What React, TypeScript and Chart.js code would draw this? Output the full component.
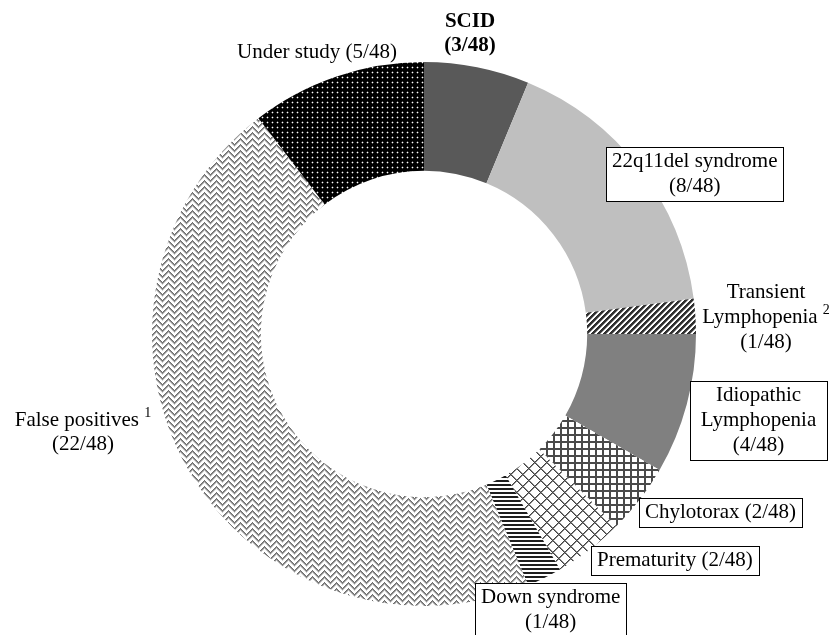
import React, { useEffect, useRef } from 'react';
import { Chart, registerables } from 'chart.js';

Chart.register(...registerables);

// ---------- data ----------
const categories = [
  'SCID',
  '22q11del syndrome',
  'Transient Lymphopenia',
  'Idiopathic Lymphopenia',
  'Chylotorax',
  'Prematurity',
  'Down syndrome',
  'False positives',
  'Under study',
];
const counts = [3, 8, 1, 4, 2, 2, 1, 22, 5];
const total = 48;
const nameLines = [
  ['SCID'],
  ['22q11del syndrome'],
  ['Transient', 'Lymphopenia'],
  ['Idiopathic', 'Lymphopenia'],
  ['Chylotorax'],
  ['Prematurity'],
  ['Down syndrome'],
  ['False positives'],
  ['Under study'],
];
const superscripts = ['', '', '2', '', '', '', '', '1', ''];
const countInline = [false, false, false, false, true, true, false, false, true];

// ---------- label layout (offsets from the doughnut centre) ----------
type Layout = { dx: number; dy: number; box: boolean; bold?: boolean; w?: number; lh?: number };
const layout: Layout[] = [
  { dx: 46, dy: -312, box: false, bold: true, lh: 24 },
  { dx: 182, dy: -187, box: true },
  { dx: 342, dy: -42, box: false, lh: 25 },
  { dx: 266, dy: 47, box: true, w: 137 },
  { dx: 215, dy: 164, box: true },
  { dx: 167, dy: 212, box: true },
  { dx: 51, dy: 249, box: true },
  { dx: -341, dy: 86, box: false, lh: 24 },
  { dx: -107, dy: -282, box: false, lh: 24 },
];

const FONT = '"Liberation Serif", "Times New Roman", serif';

function makeTile(size: number, bg: string, fn: (x: number, y: number) => string | null) {
  const c = document.createElement('canvas');
  c.width = size;
  c.height = size;
  const g = c.getContext('2d')!;
  g.fillStyle = bg;
  g.fillRect(0, 0, size, size);
  for (let y = 0; y < size; y++) {
    for (let x = 0; x < size; x++) {
      const col = fn(x, y);
      if (col) {
        g.fillStyle = col;
        g.fillRect(x, y, 1, 1);
      }
    }
  }
  return c;
}

function buildFills(ctx: CanvasRenderingContext2D): (string | CanvasPattern)[] {
  const pat = (c: HTMLCanvasElement) => ctx.createPattern(c, 'repeat') as CanvasPattern;
  const transient = pat(makeTile(6, '#ffffff', (x, y) => {
    const k = (x + y) % 6;
    return k < 3 ? '#303030' : k === 3 ? '#9a9a9a' : null;
  }));
  const chylo = pat(makeTile(7, '#ffffff', (x, y) => (x % 7 < 2 || y % 7 < 2 ? '#4a4a4a' : null)));
  const prem = pat(makeTile(12, '#ffffff', (x, y) => {
    const a = (x + y) % 12;
    const b = (((x - y) % 12) + 12) % 12;
    if (a === 0 || b === 0) return '#404040';
    if (a === 1 || b === 1) return '#8a8a8a';
    return null;
  }));
  const down = pat(makeTile(4, '#ffffff', (x, y) => (y % 4 < 2 ? '#1e1e1e' : null)));
  const falsePos = pat(makeTile(12, '#ffffff', (x, y) => {
    const d = Math.abs(x - 6);
    const k = (y + d) % 6;
    return k === 0 ? '#6e6e6e' : k === 1 ? '#8e8e8e' : k === 2 ? '#d0d0d0' : null;
  }));
  const under = pat(makeTile(5, '#000000', (x, y) => {
    if (x === 2 && y === 2) return '#ffffff';
    if ((x === 1 && y === 2) || (x === 3 && y === 2) || (x === 2 && y === 1) || (x === 2 && y === 3)) return '#4a4a4a';
    return null;
  }));
  return ['#595959', '#bfbfbf', transient, '#808080', chylo, prem, down, falsePos, under];
}

const labelPlugin = {
  id: 'sliceLabels',
  afterDraw(chart: any) {
    const ctx: CanvasRenderingContext2D = chart.ctx;
    const arc = chart.getDatasetMeta(0).data[0];
    const cx = arc.x;
    const cy = arc.y;
    ctx.save();
    ctx.textBaseline = 'middle';
    categories.forEach((_, i) => {
      const L = layout[i];
      const cnt = `(${counts[i]}/${total})`;
      const lines = nameLines[i].slice();
      if (countInline[i]) lines[lines.length - 1] = lines[lines.length - 1] + ' ' + cnt;
      else lines.push(cnt);
      const supLine = superscripts[i] ? nameLines[i].length - 1 : -1;
      const mainFont = `${L.bold ? 'bold ' : ''}21px ${FONT}`;
      const supFont = `14px ${FONT}`;
      const lh = L.lh ?? 25;
      const widths = lines.map((t, j) => {
        ctx.font = mainFont;
        let w = ctx.measureText(j === supLine ? t + ' ' : t).width;
        if (j === supLine) {
          ctx.font = supFont;
          w += ctx.measureText(superscripts[i]).width;
        }
        return w;
      });
      let centerX: number;
      let firstY: number;
      if (L.box) {
        const left = cx + L.dx;
        const top = cy + L.dy;
        const w = L.w ?? Math.max(...widths) + 12;
        const h = lines.length * lh + 4;
        ctx.fillStyle = '#ffffff';
        ctx.fillRect(left, top, w, h);
        ctx.strokeStyle = '#000000';
        ctx.lineWidth = 1;
        ctx.strokeRect(Math.round(left) + 0.5, Math.round(top) + 0.5, Math.round(w), Math.round(h));
        centerX = left + w / 2;
        firstY = top + 2 + lh / 2;
      } else {
        centerX = cx + L.dx;
        firstY = cy + L.dy;
      }
      ctx.fillStyle = '#000000';
      lines.forEach((t, j) => {
        const y = firstY + j * lh;
        let x = centerX - widths[j] / 2;
        ctx.textAlign = 'left';
        ctx.font = mainFont;
        const txt = j === supLine ? t + ' ' : t;
        ctx.fillText(txt, x, y);
        if (j === supLine) {
          x += ctx.measureText(txt).width;
          ctx.font = supFont;
          ctx.fillText(superscripts[i], x, y - 7);
        }
      });
    });
    ctx.restore();
  },
};

export default function App() {
  const ref = useRef<HTMLCanvasElement | null>(null);
  useEffect(() => {
    const canvas = ref.current!;
    const ctx = canvas.getContext('2d')!;
    const chart = new Chart(canvas, {
      type: 'doughnut',
      data: {
        labels: categories,
        datasets: [
          {
            data: counts,
            backgroundColor: buildFills(ctx),
            borderWidth: 0,
            hoverOffset: 0,
          },
        ],
      },
      options: {
        responsive: false,
        animation: false,
        cutout: '60%',
        layout: { padding: { top: 62, bottom: 29, left: 16, right: 0 } },
        plugins: {
          legend: { display: false },
          tooltip: { enabled: false },
        },
        events: [],
      },
      plugins: [labelPlugin],
    });
    return () => chart.destroy();
  }, []);
  return (
    <div style={{ position: 'fixed', left: 0, top: 0, width: 832, height: 635, background: '#fff' }}>
      <canvas ref={ref} width={832} height={635} style={{ width: 832, height: 635, display: 'block' }} />
    </div>
  );
}
